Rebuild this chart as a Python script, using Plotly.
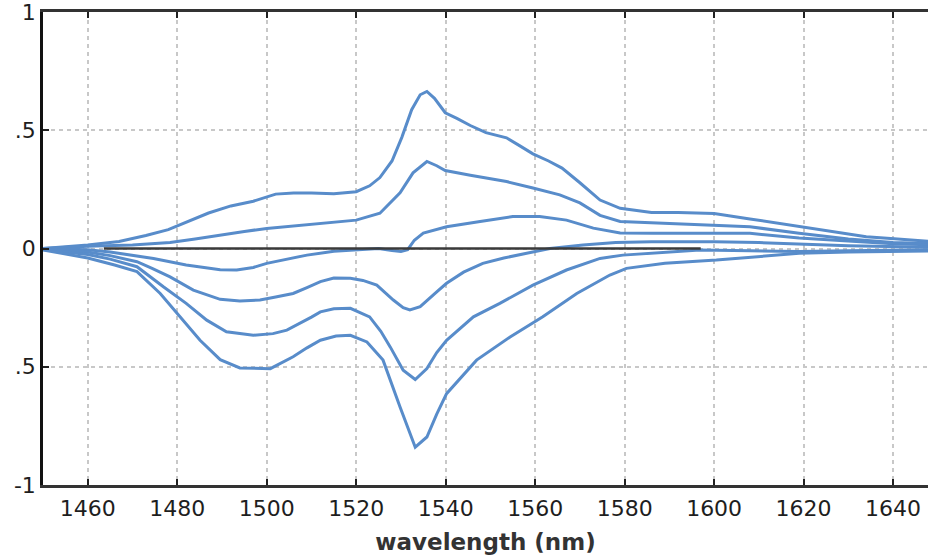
import plotly.graph_objects as go

# ---- data ----
x1 = [1450, 1455, 1460, 1467, 1473, 1478, 1483, 1487, 1492, 1497, 1502, 1506, 1510, 1515, 1520, 1523, 1525.3, 1528, 1530.2, 1532.4, 1534.3, 1535.8, 1537.5, 1539.9, 1542.5, 1545.5, 1549, 1553.6, 1556.5, 1559.5, 1563, 1566, 1570, 1574.5, 1579, 1586, 1592, 1600, 1608, 1619, 1626.5, 1634, 1641, 1650]
y1 = [0.0, 0.008, 0.015, 0.03, 0.055, 0.08, 0.12, 0.15, 0.18, 0.2, 0.23, 0.235, 0.235, 0.232, 0.24, 0.265, 0.3, 0.37, 0.47, 0.587, 0.65, 0.664, 0.635, 0.574, 0.55, 0.52, 0.49, 0.468, 0.435, 0.4, 0.37, 0.34, 0.278, 0.205, 0.17, 0.152, 0.152, 0.148, 0.125, 0.092, 0.071, 0.05, 0.04, 0.027]

x2 = [1450, 1460, 1470, 1478.4, 1484, 1489.6, 1495, 1500, 1509, 1515, 1520, 1525.3, 1529.8, 1532.7, 1535.8, 1538, 1539.9, 1545.5, 1553.6, 1559.5, 1565.5, 1570, 1574.5, 1579, 1586.4, 1592, 1597, 1608, 1619, 1630, 1640, 1650]
y2 = [0.0, 0.01, 0.015, 0.025, 0.04, 0.057, 0.072, 0.085, 0.1, 0.11, 0.12, 0.149, 0.235, 0.32, 0.368, 0.35, 0.33, 0.31, 0.283, 0.256, 0.227, 0.193, 0.14, 0.114, 0.108, 0.104, 0.1, 0.092, 0.064, 0.04, 0.025, 0.02]

x3 = [1450, 1460, 1465, 1470, 1474.7, 1482, 1489.6, 1493.3, 1497, 1500, 1505, 1509, 1515, 1520, 1525, 1528, 1530, 1531.5, 1533, 1535, 1540.2, 1547.7, 1555, 1561, 1567, 1573, 1579, 1586.4, 1592, 1608, 1619, 1630, 1640, 1650]
y3 = [0.0, -0.005, -0.015, -0.028, -0.042, -0.07, -0.09, -0.091, -0.08, -0.063, -0.045, -0.028, -0.012, -0.005, 0.0, -0.008, -0.013, -0.005, 0.035, 0.065, 0.092, 0.114, 0.135, 0.135, 0.12, 0.086, 0.066, 0.065, 0.065, 0.064, 0.044, 0.03, 0.02, 0.015]

x4 = [1450, 1460, 1465, 1471, 1474.5, 1478.4, 1483.6, 1489.6, 1494, 1498.5, 1502, 1505.9, 1509, 1512, 1515, 1518.7, 1521.5, 1524.6, 1528.3, 1530.5, 1532, 1534.3, 1538, 1540.2, 1544, 1548.3, 1553, 1559.5, 1563.3, 1570.7, 1578, 1586, 1600, 1610, 1619, 1630, 1650]
y4 = [-0.002, -0.015, -0.03, -0.056, -0.085, -0.12, -0.176, -0.215, -0.222, -0.218, -0.205, -0.19, -0.165, -0.14, -0.125, -0.126, -0.135, -0.155, -0.218, -0.25, -0.26, -0.246, -0.183, -0.147, -0.1, -0.063, -0.04, -0.013, 0.0, 0.015, 0.025, 0.029, 0.029, 0.025, 0.02, 0.012, 0.005]

x5 = [1450, 1460, 1465, 1471, 1476.9, 1482, 1486.6, 1491, 1497, 1501.4, 1504.5, 1507.4, 1510, 1512, 1515, 1518.7, 1523, 1525.5, 1527.6, 1530.5, 1533.2, 1535.8, 1538, 1540.2, 1546.2, 1552.1, 1559.5, 1567, 1574.5, 1579.6, 1585.6, 1596.8, 1608, 1619, 1630, 1650]
y5 = [-0.004, -0.025, -0.045, -0.077, -0.162, -0.232, -0.303, -0.352, -0.367, -0.36, -0.345, -0.317, -0.29, -0.268, -0.255, -0.253, -0.289, -0.35, -0.416, -0.515, -0.554, -0.508, -0.44, -0.388, -0.289, -0.232, -0.155, -0.091, -0.042, -0.028, -0.02, -0.006, -0.01, -0.013, -0.01, -0.005]

x6 = [1450, 1460, 1466, 1471, 1476.2, 1480.6, 1485.1, 1489.6, 1494, 1500.8, 1505.9, 1509, 1512, 1515.5, 1518.7, 1522.4, 1526, 1529.8, 1533.2, 1535.8, 1538, 1540.2, 1546.9, 1554.4, 1561.7, 1569.3, 1576.7, 1580.4, 1589, 1600.5, 1611.8, 1619, 1630, 1640, 1650]
y6 = [-0.006, -0.04, -0.07, -0.098, -0.19, -0.289, -0.388, -0.47, -0.505, -0.508, -0.458, -0.42, -0.388, -0.37, -0.367, -0.395, -0.472, -0.67, -0.84, -0.797, -0.7, -0.614, -0.472, -0.374, -0.289, -0.19, -0.112, -0.084, -0.062, -0.049, -0.032, -0.02, -0.015, -0.012, -0.01]

baseline_x = [1463.6, 1597]
baseline_y = [0, 0]

x_ticks = [1460, 1480, 1500, 1520, 1540, 1560, 1580, 1600, 1620, 1640]
y_tickvals = [-1, -0.5, 0, 0.5, 1]
y_ticktext = ["-1", ".5", "0", ".5", "1"]

curves = [(x1, y1), (x2, y2), (x3, y3), (x4, y4), (x5, y5), (x6, y6)]

BLUE = "rgb(88,140,202)"

fig = go.Figure()
for xs, ys in curves:
    fig.add_trace(go.Scatter(x=xs, y=ys, mode="lines",
                             line=dict(color=BLUE, width=3), showlegend=False,
                             hoverinfo="skip"))
fig.add_trace(go.Scatter(x=baseline_x, y=baseline_y, mode="lines",
                         line=dict(color="#3a3a3a", width=2.5), showlegend=False,
                         hoverinfo="skip"))

tickfont = dict(family="DejaVu Sans", size=22, color="#1e1e1e")

fig.update_layout(
    width=928, height=555,
    margin=dict(l=43, r=0, t=12, b=70, autoexpand=False),
    paper_bgcolor="white", plot_bgcolor="white",
    xaxis=dict(
        range=[1450, 1647.8], tickvals=x_ticks, ticktext=[str(v) for v in x_ticks],
        showgrid=True, gridcolor="#c8c8c8", gridwidth=1.5, griddash="4px,4px",
        zeroline=False, showline=True, linecolor="#333", linewidth=2.5, mirror="ticks",
        ticks="inside", ticklen=6, tickwidth=2, tickcolor="#222",
        tickfont=tickfont, ticklabelstandoff=2, ticklabeloverflow="allow",
        title=dict(text="wavelength (nm)",
                   font=dict(family="DejaVu Sans", size=23, color="#333", weight="bold"),
                   standoff=17),
    ),
    yaxis=dict(
        range=[-1, 1], tickvals=y_tickvals, ticktext=y_ticktext,
        showgrid=True, gridcolor="#c8c8c8", gridwidth=1.5, griddash="4px,4px",
        zeroline=False, showline=True, linecolor="#111", linewidth=2.5,
        ticks="inside", ticklen=6, tickwidth=2, tickcolor="#222",
        tickfont=tickfont, ticklabelstandoff=0, ticklabeloverflow="allow",
    ),
)

fig.write_html("out.html",
               config={"displayModeBar": False},
               post_script="document.body.style.margin='0';document.documentElement.style.overflow='hidden';")
